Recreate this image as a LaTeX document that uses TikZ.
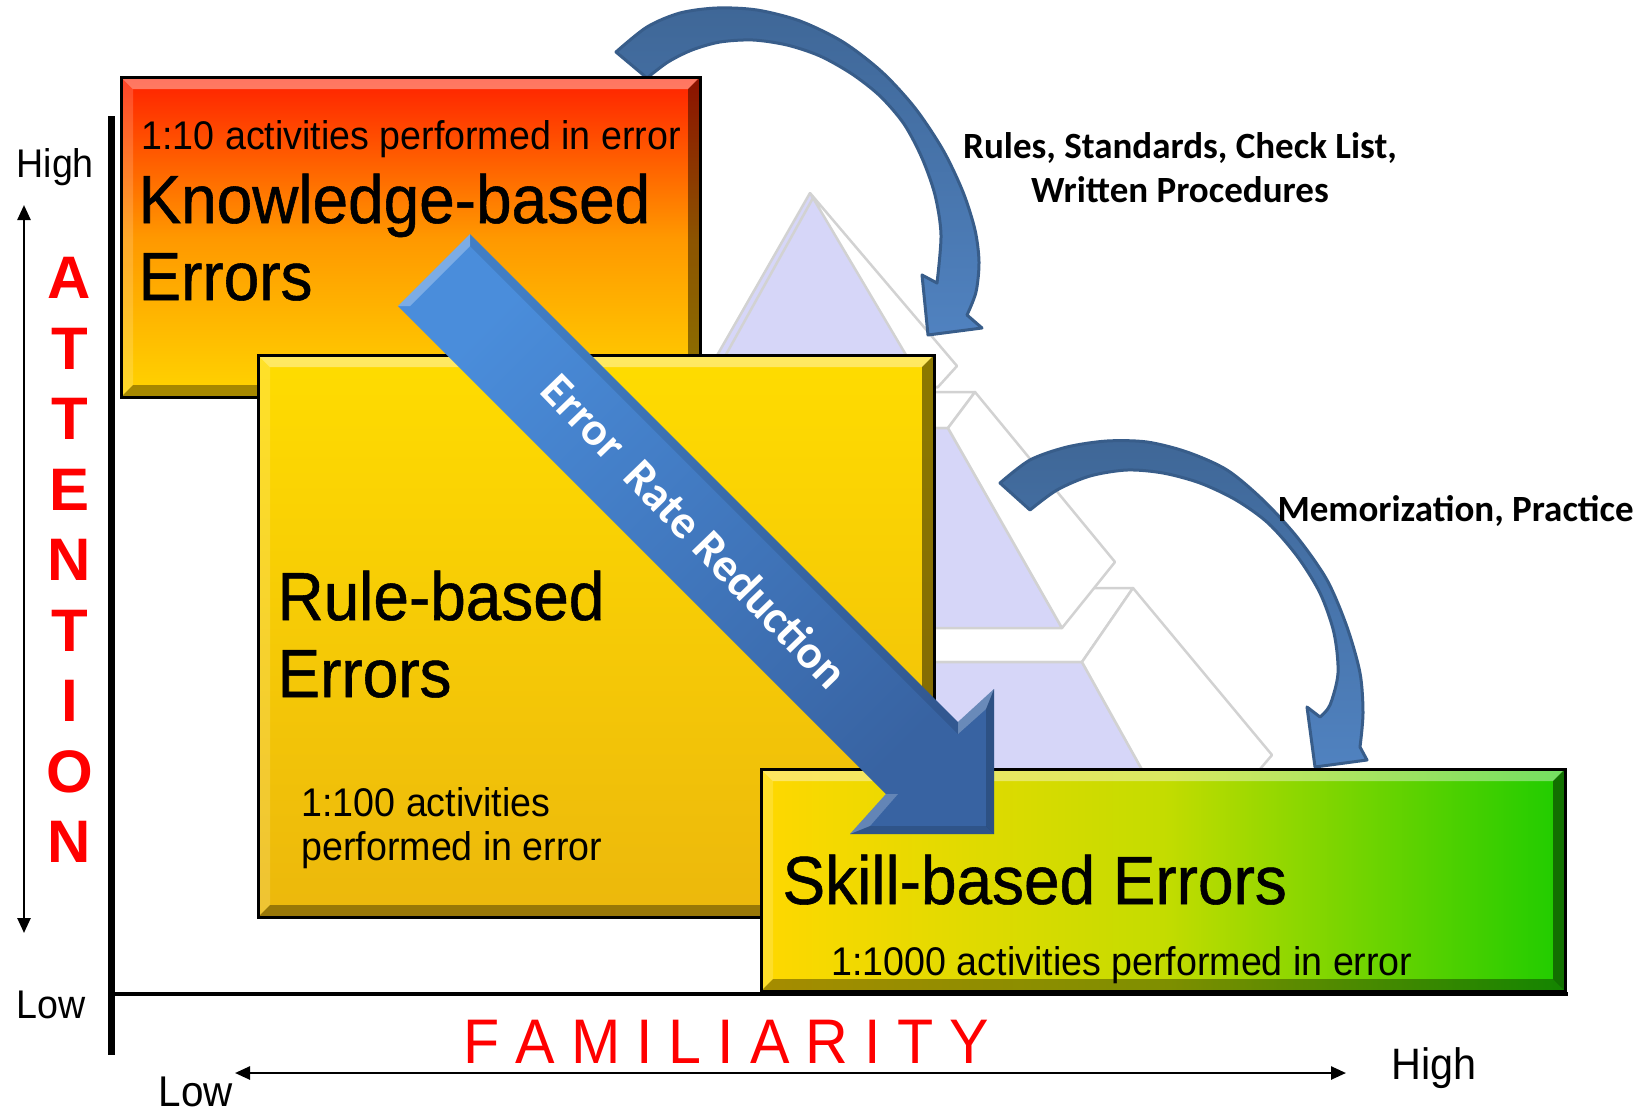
\documentclass[tikz,border=0pt]{standalone}
\usepackage{fontspec}
\setmainfont{Liberation Sans}
\newfontfamily\boxfont[FakeStretch=0.94]{Liberation Sans}
\newfontfamily\titlefont[FakeStretch=0.94,FakeBold=0.8]{Liberation Sans}
\newfontfamily\labelfont{Carlito}
\usetikzlibrary{calc,arrows.meta}

\definecolor{lav}{HTML}{D6D6F8}
\definecolor{pyrline}{HTML}{D2D2D2}
\definecolor{kTop}{HTML}{FF2000}
\definecolor{kMid}{HTML}{FF9800}
\definecolor{kBot}{HTML}{FFD400}
\definecolor{rTop}{HTML}{FFDC00}
\definecolor{rBot}{HTML}{ECB80C}
\definecolor{sLeft}{HTML}{FFD800}
\definecolor{sMid}{HTML}{C4DC00}
\definecolor{sRight}{HTML}{1ECC00}
\definecolor{curveTop}{HTML}{3F6797}
\definecolor{curveBot}{HTML}{5082C0}
\definecolor{curveLine}{HTML}{385D8A}
\definecolor{bigLight}{HTML}{4A8DDB}
\definecolor{bigDark}{HTML}{3863A2}
\definecolor{attnred}{HTML}{FF0000}

% bevelled frame around a box node: #1 node name, #2 bevel width
\newcommand\bevelbox[2]{%
  \fill[white,fill opacity=0.38] (#1.north west) -- (#1.north east) -- ($(#1.north east)+(-#2,#2)$) -- ($(#1.north west)+(#2,#2)$) -- cycle;
  \fill[white,fill opacity=0.16] (#1.north west) -- ($(#1.north west)+(#2,#2)$) -- ($(#1.south west)+(#2,-#2)$) -- (#1.south west) -- cycle;
  \fill[black,fill opacity=0.45] (#1.north east) -- (#1.south east) -- ($(#1.south east)+(-#2,-#2)$) -- ($(#1.north east)+(-#2,#2)$) -- cycle;
  \fill[black,fill opacity=0.35] (#1.south west) -- (#1.south east) -- ($(#1.south east)+(-#2,-#2)$) -- ($(#1.south west)+(#2,-#2)$) -- cycle;
  \draw[line width=3pt] (#1.north west) rectangle (#1.south east);
}

\tikzset{
  errbox/.style={rectangle, inner sep=0pt, outer sep=0pt},
  pyr/.style={draw=pyrline, line width=2.5pt, line join=round},
  curvarr/.style={draw=curveLine, line width=3pt, line join=round, top color=curveTop, bottom color=curveBot},
  bigtitle/.style={anchor=base west, align=left, font=\titlefont\fontsize{68}{77}\selectfont},
  ratio/.style={anchor=base west, align=left, font=\boxfont\fontsize{40}{44}\selectfont},
  axislabel/.style={anchor=base west, font=\boxfont\fontsize{40}{48}\selectfont},
  method/.style={font=\labelfont\bfseries\fontsize{37}{44}\selectfont},
  attn/.style={text=attnred, font=\bfseries\fontsize{60}{60}\selectfont, inner sep=0pt},
  twoway/.style={line width=2.5pt, {Triangle[length=15pt,width=13pt]}-{Triangle[length=15pt,width=13pt]}}
}

\begin{document}
\begin{tikzpicture}[x=1pt,y=-1pt]
\useasboundingbox (0,0) rectangle (1650,1112);
\fill[white] (0,0) rectangle (1650,1112);

% ---------- background pyramid (three exploded layers) ----------
% bottom layer
\filldraw[pyr, fill=white] (880,588) -- (1133,588) -- (1082,662) -- (880,662) -- cycle;
\fill[lav] (600,662) -- (1082,662) -- (1145,775) -- (600,775) -- cycle;
\draw[pyr] (600,662) -- (1082,662) -- (1145,775);
\filldraw[pyr, fill=white] (1082,662) -- (1133,588) -- (1272,755) -- (1255,775) -- (1145,775) -- cycle;
% middle layer
\filldraw[pyr, fill=white] (700,392) -- (975,392) -- (948,428) -- (700,428) -- cycle;
\filldraw[pyr, fill=lav] (700,428) -- (948,428) -- (1062,628) -- (700,628) -- cycle;
\filldraw[pyr, fill=white] (948,428) -- (975,392) -- (1115,562) -- (1062,628) -- cycle;
% top layer
\fill[lav] (810,193) -- (813,198) -- (925,387) -- (699,387) -- cycle;
\filldraw[pyr, fill=white] (810,193) -- (957,366) -- (938,387) -- (925,387) -- (813,198) -- cycle;
\draw[pyr] (810,193) -- (699,387) -- (938,387);
\draw[pyr] (813,198) -- (708,387);

% ---------- curved arrows ----------
\path[curvarr] (616,52) -- (647,78)
  -- plot[smooth] coordinates {(647,78) (668,62) (692,50) (720,42) (753,40) (787,45) (820,56) (852,74) (880,96) (904,124) (922,158) (935,195) (941,235) (937,283)}
  -- (922,275) -- (928,335) -- (982,328) -- (967,315)
  -- plot[smooth] coordinates {(967,315) (976,292) (979,262) (975,230) (963,192) (943,150) (915,108) (882,72) (843,42) (800,21) (757,10) (717,8) (680,13) (647,27) (616,52)}
  -- cycle;

\path[curvarr] (1000,483) -- (1030,510)
  -- plot[smooth] coordinates {(1030,510) (1057,490) (1090,476) (1127,470) (1163,473) (1200,483) (1236,500) (1268,523) (1297,556) (1320,593) (1334,633) (1338,673) (1330,705) (1320,717)}
  -- (1307,707) -- (1315,767) -- (1367,760) -- (1360,747)
  -- plot[smooth] coordinates {(1360,747) (1363,713) (1360,673) (1347,627) (1327,580) (1297,537) (1263,500) (1227,470) (1187,452) (1147,442) (1107,441) (1067,447) (1030,460) (1000,483)}
  -- cycle;

% ---------- axes ----------
\coordinate (ytop) at (111,116);
\coordinate (ybot) at (111,1055);
\coordinate (origin) at (111,994);
\coordinate (xend) at (1568,994);
\draw[line width=7pt] (ytop) -- (ybot);
\draw[line width=4.5pt] (origin) -- (xend);

% ---------- error boxes ----------
\node[errbox, top color=kTop, bottom color=kBot, middle color=kMid, minimum width=579pt, minimum height=320pt] (kbox) at (410.5,237) {};
\bevelbox{kbox}{12}
\node[errbox, top color=rTop, bottom color=rBot, minimum width=676pt, minimum height=562pt] (rbox) at (596,636) {};
\bevelbox{rbox}{12}
\node[errbox, left color=sLeft, right color=sRight, middle color=sMid, minimum width=804pt, minimum height=222pt] (sbox) at (1163,880) {};
\bevelbox{sbox}{12}

% ---------- box texts (multi-line nodes sit on their last baseline) ----------
\node[ratio] (kratio) at (138,149) {1:10 activities performed in error};
\node[bigtitle] (ktitle) at (135,300) {Knowledge-based\\Errors};
\node[bigtitle] (rtitle) at (274,697) {Rule-based\\Errors};
\node[ratio] (rratio) at (298,860) {1:100 activities\\performed in error};
\node[bigtitle] (stitle) at (779,904) {Skill-based Errors};
\node[ratio] (sratio) at (828,975) {1:1000 activities performed in error};

% ---------- error rate reduction arrow ----------
\path[top color=bigLight, bottom color=bigDark, shading angle=45]
  (470,234) -- (958,722) -- (994,689) -- (994,834) -- (850,834) -- (886,794) -- (398,306) -- cycle;
\fill[white, fill opacity=0.28] (398,306) -- (470,234) -- (470,246) -- (410,306) -- cycle;
\fill[white, fill opacity=0.25] (958,722) -- (994,689) -- (986,709) -- (958,734) -- cycle;
\fill[white, fill opacity=0.22] (886,794) -- (850,834) -- (870,826) -- (898,794) -- cycle;
\fill[black, fill opacity=0.18] (994,689) -- (994,834) -- (986,826) -- (986,709) -- cycle;
\fill[black, fill opacity=0.15] (994,834) -- (850,834) -- (870,826) -- (986,826) -- cycle;
\fill[black, fill opacity=0.10] (470,234) -- (958,722) -- (958,734) -- (470,246) -- cycle;
\node[rotate=-46, text=white, font=\labelfont\bfseries\fontsize{47}{56}\selectfont] (ertext) at (695,531) {Error~~Rate Reduction};

% ---------- method labels ----------
\node[method, anchor=base, align=center] (rules) at (1180,202) {Rules, Standards, Check List,\\Written Procedures};
\node[method, anchor=base west] (memo) at (1274,521) {Memorization, Practice};

% ---------- attention axis ----------
\node[axislabel] (ahigh) at (13,177) {High};
\node[axislabel] (alow) at (13,1018) {Low};
\coordinate (atop) at (24,205);
\coordinate (abot) at (24,933);
\draw[twoway] (atop) -- (abot);
\foreach \ch/\yy [count=\i] in {A/278, T/349, T/419, E/490, N/560, T/631, I/701, O/772, N/842}
  \node[attn] (att\i) at (69.5,\yy) {\ch};

% ---------- familiarity axis ----------
\node[anchor=base west, text=attnred, font=\boxfont\fontsize{63}{63}\selectfont] (fam) at (460,1063)
  {F\kern16pt A\kern16pt M\kern16pt I\kern16pt L\kern16pt I\kern16pt A\kern16pt R\kern16pt I\kern16pt T\kern16pt Y};
\coordinate (fleft) at (235,1073);
\coordinate (fright) at (1346,1073);
\draw[twoway] (fleft) -- (fright);
\node[anchor=base west, font=\boxfont\fontsize{43}{48}\selectfont] (flow) at (155,1106) {Low};
\node[anchor=base west, font=\boxfont\fontsize{44}{48}\selectfont] (fhigh) at (1388,1079) {High};
\end{tikzpicture}
\end{document}
